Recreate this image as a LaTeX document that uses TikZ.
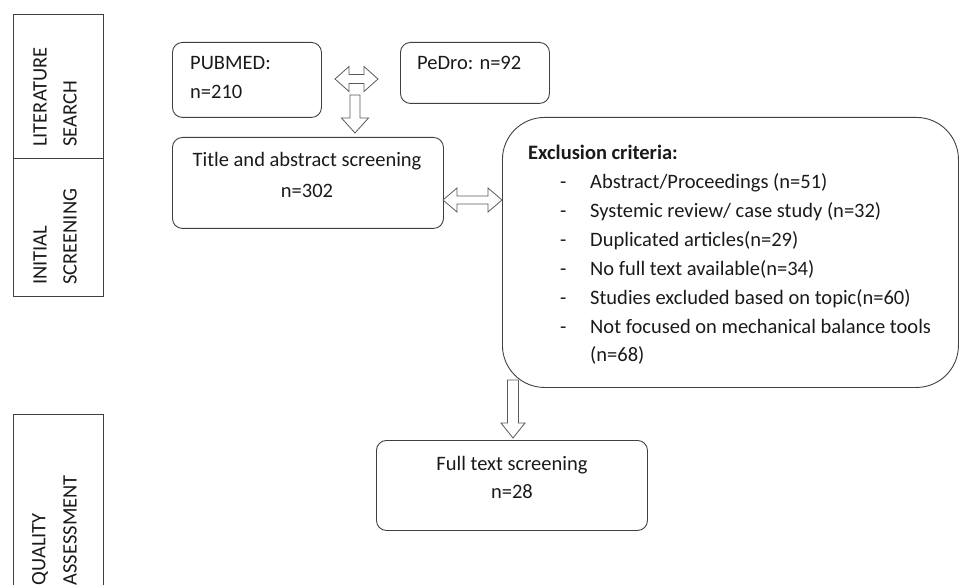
\documentclass[tikz,border=0pt]{standalone}
\usepackage{fontspec}
\setmainfont{Carlito}
\definecolor{boxline}{HTML}{404040}
\definecolor{arrline}{HTML}{5A5A5A}
\definecolor{txt}{HTML}{1A1A1A}
\newcommand\hdarr[6]{\draw[blockarrow] (#1,#3) -- (#1+#4,#3-#5) -- (#1+#4,#3-#6) -- (#2-#4,#3-#6) -- (#2-#4,#3-#5) -- (#2,#3) -- (#2-#4,#3+#5) -- (#2-#4,#3+#6) -- (#1+#4,#3+#6) -- (#1+#4,#3+#5) -- cycle;}
\newcommand\dnarr[6]{\draw[blockarrow] (#1-#6,#2) -- (#1+#6,#2) -- (#1+#6,#3-#4) -- (#1+#5,#3-#4) -- (#1,#3) -- (#1-#5,#3-#4) -- (#1-#6,#3-#4) -- cycle;}
\begin{document}
\begin{tikzpicture}[x=1pt,y=-1pt,
  stagebox/.style={draw=boxline, line width=0.9pt},
  rbox/.style={draw=boxline, line width=0.9pt, rounded corners=10pt, inner sep=0pt, anchor=north west},
  blockarrow/.style={draw=arrline, fill=white, line width=0.8pt, line join=miter},
  lbl/.style={inner sep=0pt, text=txt, font=\fontsize{20.5}{24}\selectfont},
  rot/.style={lbl, rotate=90}]
\useasboundingbox (0,0) rectangle (960,585);

% stage column
\draw[stagebox] (13,14) rectangle (103,158);
\draw[stagebox] (13,158) rectangle (103,296);
\draw[stagebox] (13,414) rectangle (103,600);
\node[rot, anchor=west] (lit1) at (40,147) {LITERATURE};
\node[rot, anchor=west] (lit2) at (70,147) {SEARCH};
\node[rot, anchor=west] (ini1) at (40,285) {INITIAL};
\node[rot, anchor=west] (ini2) at (70,285) {SCREENING};
\node[rot, anchor=east] (qua1) at (40,513) {QUALITY};
\node[rot, anchor=east] (qua2) at (70,475) {ASSESSMENT};

% boxes
\node[rbox, minimum width=149pt, minimum height=75pt] (pubmed) at (172,42) {};
\node[rbox, minimum width=149pt, minimum height=61pt] (pedro) at (400,42) {};
\node[rbox, minimum width=271pt, minimum height=91pt] (title) at (172,137) {};
\node[rbox, rounded corners=42pt, minimum width=456pt, minimum height=270pt] (excl) at (502,117) {};
\node[rbox, minimum width=271pt, minimum height=90pt] (full) at (376,440) {};

% texts
\node[lbl, anchor=base west] (t1) at (190,70) {PUBMED:};
\node[lbl, anchor=base west] (t2) at (190,99) {n=210};
\node[lbl, anchor=base west] (t3) at (417,70) {PeDro: n=92};
\node[lbl, anchor=base] (t4) at (307,167) {Title and abstract screening};
\node[lbl, anchor=base] (t5) at (307,198) {n=302};
\node[lbl, anchor=base west, font=\fontsize{20.5}{24}\selectfont\bfseries] (e0) at (528,160) {Exclusion criteria:};
\foreach \i/\t in {1/{Abstract/Proceedings (n=51)},2/{Systemic review/ case study (n=32)},3/{Duplicated articles(n=29)},4/{No full text available(n=34)},5/{Studies excluded based on topic(n=60)},6/{Not focused on mechanical balance tools}}{
  \node[lbl, anchor=base west] (d\i) at (560,{189+28.8*(\i-1)}) {-};
  \node[lbl, anchor=base west] (e\i) at (590,{189+28.8*(\i-1)}) {\t};
}
\node[lbl, anchor=base west] (e7) at (590,{189+28.8*6}) {(n=68)};
\node[lbl, anchor=base] (t6) at (512,470) {Full text screening};
\node[lbl, anchor=base] (t7) at (512,498) {n=28};

% block arrows
\hdarr{335}{378}{79}{14}{12.5}{4.5}
\dnarr{355}{95}{133}{15}{13.5}{5}
\hdarr{443}{502}{200}{14}{12}{4}
\dnarr{513}{380}{438}{15}{12}{5.5}
\end{tikzpicture}
\end{document}
